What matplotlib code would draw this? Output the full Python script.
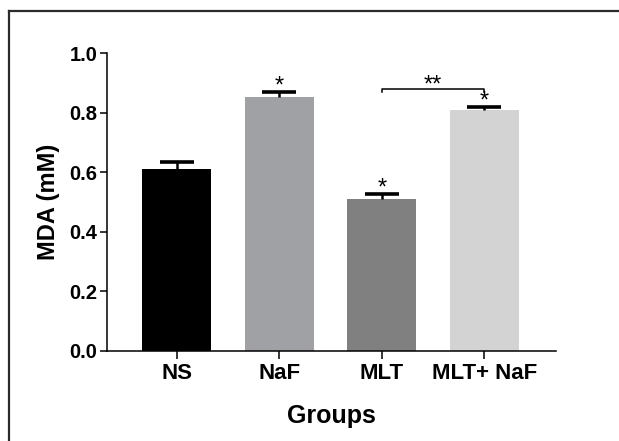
import matplotlib
matplotlib.use("Agg")
import matplotlib.pyplot as plt
from matplotlib.lines import Line2D

categories = ["NS", "NaF", "MLT", "MLT+ NaF"]
values = [0.61, 0.852, 0.511, 0.808]
errors = [0.025, 0.018, 0.016, 0.012]
colors = ["#000000", "#a0a1a4", "#808080", "#d3d3d3"]
stars = ["", "*", "*", "*"]
bracket_pair = (2, 3)
bracket_label = "**"
yticks = [0.0, 0.2, 0.4, 0.6, 0.8, 1.0]

plt.rcParams['font.family'] = ['Liberation Sans', 'DejaVu Sans']
plt.rcParams['font.weight'] = 'bold'

fig = plt.figure(figsize=(6.19, 4.41), dpi=100)
ax = fig.add_axes([0.1729, 0.2048, 0.7253, 0.6743])

x = list(range(len(categories)))
bar_w = 0.67
cap_w = 0.33
ax.bar(x, values, width=bar_w, color=colors, zorder=2)
tops = [v + e for v, e in zip(values, errors)]
ax.vlines(x, values, tops, color='black', lw=1.8, zorder=3)
ax.hlines(tops, [xi - cap_w / 2 for xi in x], [xi + cap_w / 2 for xi in x],
          color='black', lw=2.6, zorder=3)

for xi, t, s in zip(x, tops, stars):
    if s:
        ax.text(xi, t - 0.003, s, ha='center', va='baseline', fontsize=17,
                fontweight='normal')

bx0, bx1 = bracket_pair
by = 0.88
ax.plot([bx0, bx0, bx1, bx1], [by - 0.009, by, by, by - 0.009], color='black', lw=1.1,
        zorder=3)
ax.text((bx0 + bx1) / 2, by - 0.008, bracket_label, ha='center', va='baseline',
        fontsize=17, fontweight='normal')

ax.set_xlim(-0.68, 3.70)
ax.set_ylim(0, 1.0)
ax.set_yticks(yticks)
ax.set_yticklabels([f"{t:.1f}" for t in yticks], fontsize=14.5, fontweight='bold')
ax.set_xticks(x)
ax.set_xticklabels(categories, fontsize=16, fontweight='bold')
ax.set_ylabel("MDA (mM)", fontsize=17, fontweight='bold', labelpad=7)
ax.set_xlabel("Groups", fontsize=18, fontweight='bold', labelpad=14)

for side in ['top', 'right']:
    ax.spines[side].set_visible(False)
for side in ['left', 'bottom']:
    ax.spines[side].set_linewidth(1.1)
ax.tick_params(axis='x', width=1.1, length=6, direction='out', pad=3)
ax.tick_params(axis='y', width=1.1, length=5, direction='out', pad=2)

# figure frame (top and left border)
fig.add_artist(Line2D([8.5/619, 1.0], [1 - 10.5/441, 1 - 10.5/441],
                      transform=fig.transFigure, color='#2b2b2b', lw=1.6))
fig.add_artist(Line2D([8.5/619, 8.5/619], [0, 1 - 10.5/441],
                      transform=fig.transFigure, color='#2b2b2b', lw=1.6))

fig.savefig("out.png", dpi=100)
